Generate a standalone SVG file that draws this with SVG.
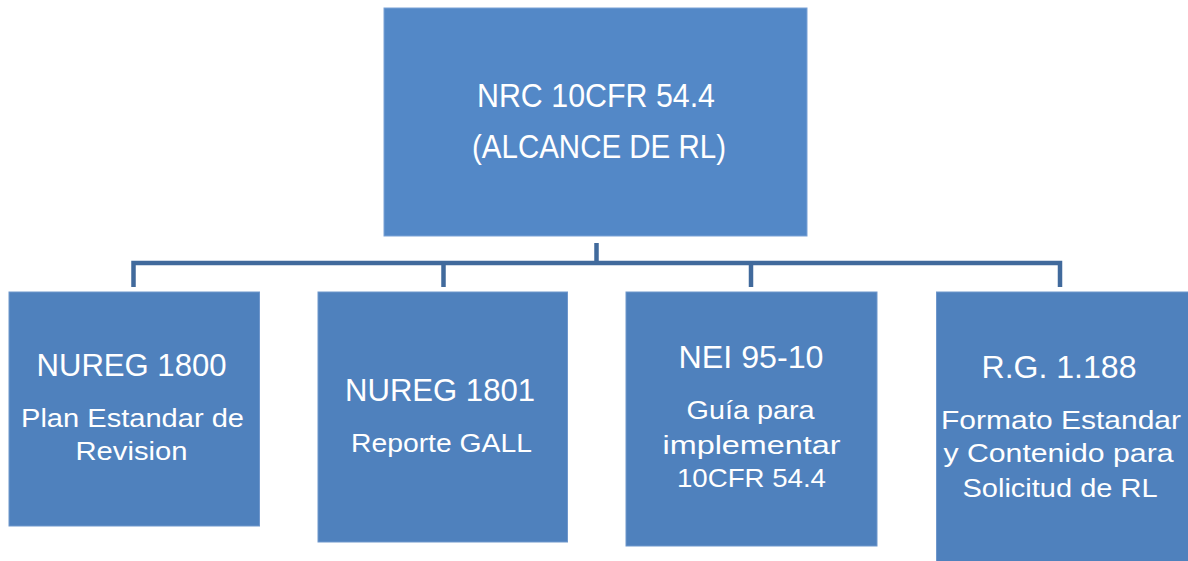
<svg xmlns="http://www.w3.org/2000/svg" width="1188" height="561" viewBox="0 0 1188 561">
<style>
.box{fill:#4F81BD;stroke:#6F97CC;stroke-width:1}
.top{fill:#5388C7;stroke:#7AA2D6;stroke-width:1}
text{font-family:"Liberation Sans",Arial,sans-serif;fill:#FFFFFF;text-anchor:middle}
.h{font-size:31px}
.s{font-size:25.5px}
.t{font-size:33px}
.c{fill:none;stroke:#416A9C;stroke-width:4.5;stroke-linecap:butt}
</style>
<rect width="1188" height="561" fill="#FFFFFF"/>
<g id="connectors">
<path class="c" d="M596.5 243V263"/>
<path class="c" d="M133.5 287V263H1060V287"/>
<path class="c" d="M443.5 263V287"/>
<path class="c" d="M751 263V287"/>
</g>
<g id="node-top">
<rect class="top" x="384" y="8" width="423" height="228"/>
<text class="t" x="596" y="107" textLength="238" lengthAdjust="spacingAndGlyphs">NRC 10CFR 54.4</text>
<text class="t" x="599" y="158" textLength="254" lengthAdjust="spacingAndGlyphs">(ALCANCE DE RL)</text>
</g>
<g id="node-nureg1800">
<rect class="box" x="9" y="292" width="250.5" height="234"/>
<text class="h" x="131.5" y="376" textLength="190" lengthAdjust="spacingAndGlyphs">NUREG 1800</text>
<text class="s" x="132.5" y="427" textLength="223" lengthAdjust="spacingAndGlyphs">Plan Estandar de</text>
<text class="s" x="131.5" y="460" textLength="112" lengthAdjust="spacingAndGlyphs">Revision</text>
</g>
<g id="node-nureg1801">
<rect class="box" x="318" y="292" width="249.5" height="250"/>
<text class="h" x="440" y="401" textLength="190" lengthAdjust="spacingAndGlyphs">NUREG 1801</text>
<text class="s" x="441.5" y="452" textLength="181" lengthAdjust="spacingAndGlyphs">Reporte GALL</text>
</g>
<g id="node-nei">
<rect class="box" x="626" y="292" width="251" height="254"/>
<text class="h" x="751" y="368" textLength="145" lengthAdjust="spacingAndGlyphs">NEI 95-10</text>
<text class="s" x="750.5" y="418.5" textLength="128" lengthAdjust="spacingAndGlyphs">Guía para</text>
<text class="s" x="751.5" y="453.5" textLength="178" lengthAdjust="spacingAndGlyphs">implementar</text>
<text class="s" x="751.5" y="487" textLength="149" lengthAdjust="spacingAndGlyphs">10CFR 54.4</text>
</g>
<g id="node-rg">
<rect class="box" x="936.5" y="292" width="252" height="272"/>
<text class="h" x="1059" y="378" textLength="155" lengthAdjust="spacingAndGlyphs">R.G. 1.188</text>
<text class="s" x="1061" y="428.5" textLength="240" lengthAdjust="spacingAndGlyphs">Formato Estandar</text>
<text class="s" x="1058.5" y="462" textLength="230" lengthAdjust="spacingAndGlyphs">y Contenido para</text>
<text class="s" x="1060" y="497" textLength="195" lengthAdjust="spacingAndGlyphs">Solicitud de RL</text>
</g>
</svg>
